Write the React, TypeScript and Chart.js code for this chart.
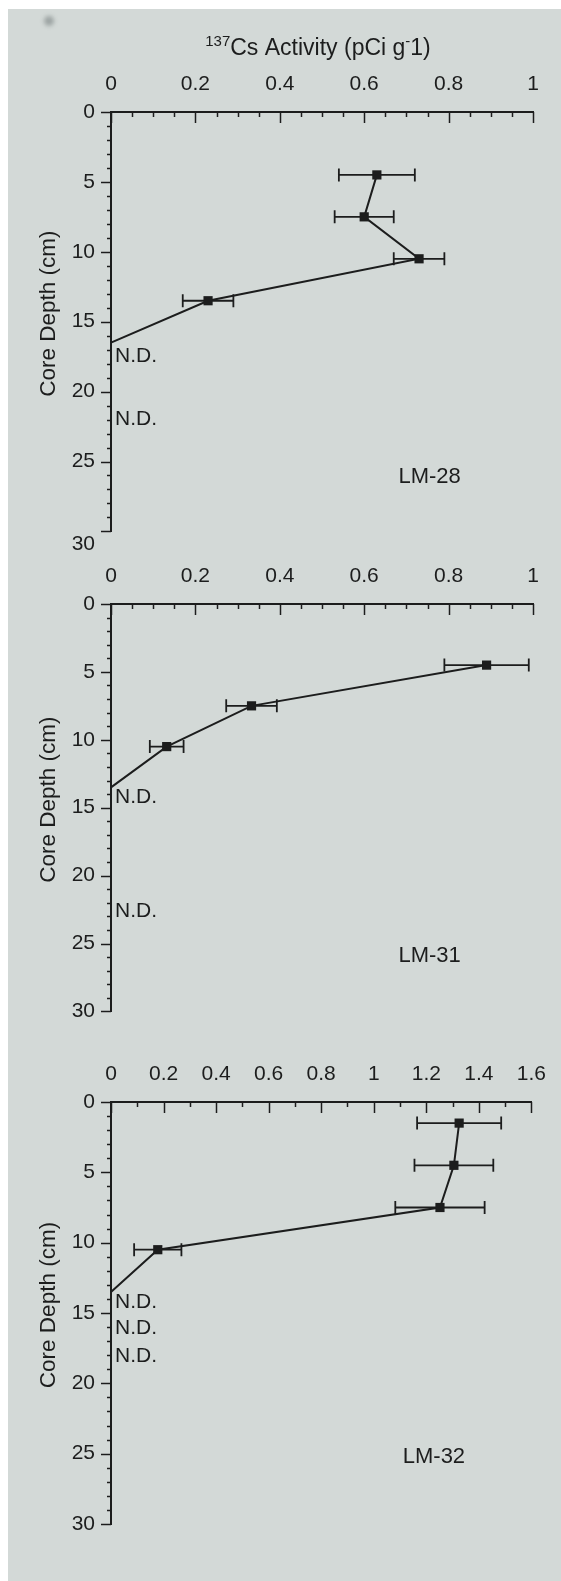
import React, { useEffect, useRef } from 'react';
import { Chart, registerables } from 'chart.js';

Chart.register(...registerables);

const FONT = "'Liberation Sans', Arial, Helvetica, sans-serif";
const INK = '#1c1d1d';
const PAPER = '#d3d9d7';

// shared axes
const depthTicks = [0, 5, 10, 15, 20, 25, 30];
const activityTicksA = [0, 0.2, 0.4, 0.6, 0.8, 1];
const activityTicksB = [0, 0.2, 0.4, 0.6, 0.8, 1, 1.2, 1.4, 1.6];

// LM-28
const depthLM28 = [4.5, 7.5, 10.5, 13.5];
const csLM28 = [0.63, 0.6, 0.73, 0.23];
const errLM28 = [0.09, 0.07, 0.06, 0.06];
const zeroDepthLM28 = 16.5;
const ndDepthLM28 = [17.5, 22.0];

// LM-31
const depthLM31 = [4.5, 7.5, 10.5];
const csLM31 = [0.89, 0.333, 0.132];
const errLM31 = [0.1, 0.06, 0.04];
const zeroDepthLM31 = 13.5;
const ndDepthLM31 = [14.2, 22.6];

// LM-32
const depthLM32 = [1.5, 4.5, 7.5, 10.5];
const csLM32 = [1.325, 1.305, 1.252, 0.178];
const errLM32 = [0.16, 0.15, 0.17, 0.09];
const zeroDepthLM32 = 13.5;
const ndDepthLM32 = [14.2, 16.1, 18.1];

type PanelSpec = {
  id: string;
  depth: number[];
  cs: number[];
  err: number[];
  zero: number;
  nd: number[];
  xTicks: number[];
  xMax: number;
  minorStep: number;
  labelAt: [number, number];
  top: number;
  height: number;
  areaTop: number;
  areaBottom: number;
  showTitle: boolean;
  shiftLast: boolean;
};

const panels: PanelSpec[] = [
  {
    id: 'LM-28', depth: depthLM28, cs: csLM28, err: errLM28, zero: zeroDepthLM28, nd: ndDepthLM28,
    xTicks: activityTicksA, xMax: 1, minorStep: 0.05, labelAt: [0.755, 26.1],
    top: 0, height: 560, areaTop: 112, areaBottom: 532, showTitle: true, shiftLast: true,
  },
  {
    id: 'LM-31', depth: depthLM31, cs: csLM31, err: errLM31, zero: zeroDepthLM31, nd: ndDepthLM31,
    xTicks: activityTicksA, xMax: 1, minorStep: 0.05, labelAt: [0.755, 25.9],
    top: 560, height: 480, areaTop: 44, areaBottom: 465, showTitle: false, shiftLast: false,
  },
  {
    id: 'LM-32', depth: depthLM32, cs: csLM32, err: errLM32, zero: zeroDepthLM32, nd: ndDepthLM32,
    xTicks: activityTicksB, xMax: 1.6, minorStep: 0.1, labelAt: [1.229, 25.2],
    top: 1040, height: 541, areaTop: 62, areaBottom: 484, showTitle: false, shiftLast: false,
  },
];

const AXIS_LEFT = 111;
const AXIS_RIGHT = 533;
const W = 561;

function fmt(v: number) {
  return String(Math.round(v * 100) / 100);
}

function makeDecor(p: PanelSpec) {
  return {
    id: 'decor',
    beforeDatasetsDraw(chart: any) {
      const { ctx } = chart;
      const xs = chart.scales.x;
      const ys = chart.scales.y;
      ctx.save();
      ctx.strokeStyle = INK;
      ctx.lineWidth = 1.8;
      p.cs.forEach((v, i) => {
        const py = ys.getPixelForValue(p.depth[i]);
        const x1 = xs.getPixelForValue(v - p.err[i]);
        const x2 = xs.getPixelForValue(v + p.err[i]);
        ctx.beginPath();
        ctx.moveTo(x1, py);
        ctx.lineTo(x2, py);
        ctx.moveTo(x1, py - 6.5);
        ctx.lineTo(x1, py + 6.5);
        ctx.moveTo(x2, py - 6.5);
        ctx.lineTo(x2, py + 6.5);
        ctx.stroke();
      });
      ctx.restore();
    },
    afterDraw(chart: any) {
      const { ctx, chartArea } = chart;
      const xs = chart.scales.x;
      const ys = chart.scales.y;
      ctx.save();
      ctx.strokeStyle = INK;
      ctx.fillStyle = INK;
      ctx.lineWidth = 1.5;
      // x ticks pointing into the plot
      const n = Math.round(p.xMax / p.minorStep);
      for (let i = 0; i <= n; i++) {
        const v = i * p.minorStep;
        const px = Math.round(xs.getPixelForValue(v)) + 0.5;
        const major = p.xTicks.some((t) => Math.abs(t - v) < 1e-6);
        const len = major ? 11 : 5;
        ctx.beginPath();
        ctx.moveTo(px, chartArea.top);
        ctx.lineTo(px, chartArea.top + len);
        ctx.stroke();
      }
      // y ticks pointing out
      for (let d = 0; d <= 30; d++) {
        const py = Math.round(ys.getPixelForValue(d)) + 0.5;
        const major = depthTicks.includes(d);
        const len = major ? 10 : 4;
        ctx.beginPath();
        ctx.moveTo(chartArea.left - len, py);
        ctx.lineTo(chartArea.left, py);
        ctx.stroke();
      }
      // N.D. labels
      ctx.font = `21px ${FONT}`;
      ctx.textAlign = 'left';
      ctx.textBaseline = 'middle';
      p.nd.forEach((d) => {
        ctx.fillText('N.D.', xs.getPixelForValue(0) + 4, ys.getPixelForValue(d));
      });
      // core label
      ctx.font = `22px ${FONT}`;
      ctx.textAlign = 'center';
      ctx.fillText(p.id, xs.getPixelForValue(p.labelAt[0]), ys.getPixelForValue(p.labelAt[1]));
      // y axis title
      ctx.save();
      ctx.translate(49, (chartArea.top + chartArea.bottom) / 2 - 8);
      ctx.rotate(-Math.PI / 2);
      ctx.font = `22.5px ${FONT}`;
      ctx.textAlign = 'center';
      ctx.textBaseline = 'middle';
      ctx.fillText('Core Depth (cm)', 0, 0);
      ctx.restore();
      // x axis title with superscripts
      if (p.showTitle) {
        const parts = [
          { t: '137', s: 15, r: -9 },
          { t: 'Cs Activity (pCi g', s: 23, r: 0 },
          { t: '-', s: 15, r: -9 },
          { t: '1)', s: 23, r: 0 },
        ];
        let total = 0;
        const widths = parts.map((q) => {
          ctx.font = `${q.s}px ${FONT}`;
          const w = ctx.measureText(q.t).width;
          total += w;
          return w;
        });
        const cx = (chartArea.left + chartArea.right) / 2 - 4;
        let x = cx - total / 2;
        const base = 55;
        ctx.textAlign = 'left';
        ctx.textBaseline = 'alphabetic';
        parts.forEach((q, i) => {
          ctx.font = `${q.s}px ${FONT}`;
          ctx.fillText(q.t, x, base + q.r);
          x += widths[i];
        });
      }
      ctx.restore();
    },
  };
}

function Panel({ p }: { p: PanelSpec }) {
  const ref = useRef<HTMLCanvasElement | null>(null);
  useEffect(() => {
    if (!ref.current) return;
    const n = p.cs.length;
    const points = p.cs.map((v, i) => ({ x: v, y: p.depth[i] }));
    points.push({ x: 0, y: p.zero });
    const chart = new Chart(ref.current, {
      type: 'line',
      data: {
        datasets: [
          {
            data: points,
            borderColor: INK,
            borderWidth: 2,
            backgroundColor: INK,
            pointStyle: 'rect',
            pointRadius: (ctx: any) => (ctx.dataIndex < n ? 6.5 : 0),
            pointBackgroundColor: INK,
            pointBorderWidth: 0,
            pointHoverRadius: 0,
            fill: false,
            tension: 0,
            clip: false,
          } as any,
        ],
      },
      options: {
        responsive: false,
        animation: false,
        devicePixelRatio: 1,
        events: [],
        layout: {
          autoPadding: false,
          padding: { left: 0, right: W - AXIS_RIGHT, top: 0, bottom: p.height - p.areaBottom },
        },
        plugins: {
          legend: { display: false },
          tooltip: { enabled: false },
          title: { display: false },
        },
        scales: {
          x: {
            type: 'linear',
            position: 'top',
            min: 0,
            max: p.xMax,
            afterBuildTicks: (s: any) => {
              s.ticks = p.xTicks.map((v) => ({ value: v }));
            },
            afterFit: (s: any) => {
              s.height = p.areaTop;
            },
            ticks: {
              autoSkip: false,
              maxRotation: 0,
              padding: 15,
              color: INK,
              font: { family: FONT, size: 21 },
              callback: (v: any) => fmt(Number(v)),
            },
            grid: { display: false, drawTicks: false },
            border: { display: true, color: INK, width: 2 },
          },
          y: {
            type: 'linear',
            position: 'left',
            reverse: true,
            min: 0,
            max: 30,
            afterBuildTicks: (s: any) => {
              s.ticks = depthTicks.map((v) => ({ value: v }));
            },
            afterFit: (s: any) => {
              s.width = AXIS_LEFT;
            },
            ticks: {
              autoSkip: false,
              padding: 16,
              color: INK,
              font: { family: FONT, size: 21 },
              callback: (v: any) => (p.shiftLast && Number(v) === 30 ? ['', '30'] : fmt(Number(v))),
            },
            grid: { display: false, drawTicks: false },
            border: { display: true, color: INK, width: 2 },
          },
        },
      } as any,
      plugins: [makeDecor(p)],
    });
    return () => chart.destroy();
  }, [p]);
  return (
    <canvas
      ref={ref}
      width={W}
      height={p.height}
      style={{ position: 'absolute', left: 0, top: p.top, width: W, height: p.height, display: 'block' }}
    />
  );
}

export default function App() {
  return (
    <div
      style={{
        position: 'absolute',
        left: 0,
        top: 0,
        width: W,
        height: 1581,
        background: '#ffffff',
        overflow: 'hidden',
      }}
    >
      <div style={{ position: 'absolute', left: 8, top: 9, right: 0, bottom: 0, background: PAPER }} />
      <div
        style={{
          position: 'absolute',
          left: 44,
          top: 16,
          width: 10,
          height: 10,
          borderRadius: 5,
          background: 'rgba(90,100,100,0.45)',
          filter: 'blur(2px)',
        }}
      />
      {panels.map((p) => (
        <Panel key={p.id} p={p} />
      ))}
    </div>
  );
}
